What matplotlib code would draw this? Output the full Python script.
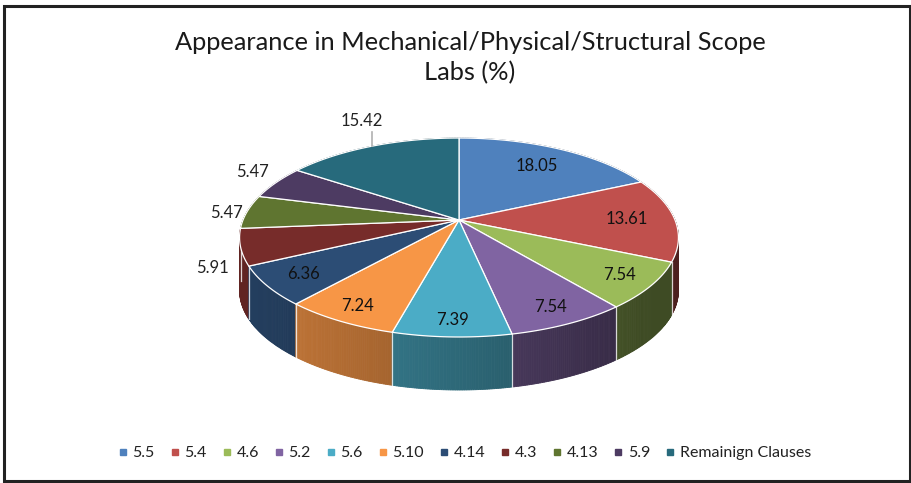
import numpy as np
import matplotlib
matplotlib.use("Agg")
import matplotlib.pyplot as plt
from matplotlib.patches import Polygon, Rectangle
from matplotlib.lines import Line2D
from matplotlib.colors import to_rgb

plt.rcParams['font.family'] = ['Lato', 'DejaVu Sans']

# ---- data ----
categories = ["5.5", "5.4", "4.6", "5.2", "5.6", "5.10", "4.14", "4.3", "4.13", "5.9", "Remainign Clauses"]
values = [18.05, 13.61, 7.54, 7.54, 7.39, 7.24, 6.36, 5.91, 5.47, 5.47, 15.42]
colors = ["#4F81BD", "#C0504D", "#9BBB59", "#8064A2", "#4BACC6", "#F79646",
          "#2C4D75", "#772C2A", "#5F7530", "#4D3B62", "#276A7C"]
title = "Appearance in Mechanical/Physical/Structural Scope\nLabs (%)"

# ---- style / geometry (pixels) ----
W, H = 911, 483
X0, Y0 = 459, 220          # apex of pie
A, B, P = 216, 96.4, 0.176  # half width, depth scale, perspective
DEPTH = 53
label_r = [0.74, 0.78, 0.85, 0.86, 0.88, 0.87, 0.83, None, None, None, None]
outside_off = {7: (-28, 21), 8: (-21, 1), 9: (-24, -11), 10: (-10, -25)}

fig = plt.figure(figsize=(W / 100, H / 100), dpi=100)
ax = fig.add_axes([0, 0, 1, 1])
ax.set_xlim(0, W)
ax.set_ylim(H, 0)
ax.axis('off')

ax.add_patch(Rectangle((4, 6), 906, 475, fill=False, edgecolor="#222222", lw=2.2, zorder=50))


def proj(u, v):
    d = 1 - P * v
    return X0 + A * u / d, Y0 + B * v / d


def pt(theta_deg, r=1.0):
    t = np.radians(theta_deg)
    return proj(r * np.cos(t), -r * np.sin(t))


def shade(theta):
    f = 0.56 - 0.26 * np.cos(np.radians(theta - 10))
    return max(f, 0.40)


total = sum(values)
spans = [360 * v / total for v in values]
starts = 90 - np.concatenate([[0], np.cumsum(spans)[:-1]])

# ---- side walls (quads sorted back to front) ----
quads = []
for i, (s, sp) in enumerate(zip(starts, spans)):
    n = max(int(sp * 2), 4)
    th = np.linspace(s, s - sp, n + 1)
    for a0, a1 in zip(th[:-1], th[1:]):
        x0, y0 = pt(a0)
        x1, y1 = pt(a1)
        vmid = -np.sin(np.radians((a0 + a1) / 2))
        base = np.array(to_rgb(colors[i]))
        c = tuple(np.clip(base * shade((a0 + a1) / 2), 0, 1))
        quads.append((vmid, [(x0, y0), (x1, y1), (x1, y1 + DEPTH), (x0, y0 + DEPTH)], c))
quads.sort(key=lambda q: q[0])
for vm, poly, c in quads:
    ax.add_patch(Polygon(poly, closed=True, facecolor=c, edgecolor=c, lw=0.6, zorder=2))

# boundaries on visible wall
for s in starts:
    ang = s % 360
    if 180 < ang < 360:
        x0, y0 = pt(s)
        ax.plot([x0, x0], [y0, y0 + DEPTH], color="white", lw=0.9, alpha=0.8, zorder=3)

# ---- top faces ----
for i, (s, sp) in enumerate(zip(starts, spans)):
    th = np.linspace(s, s - sp, max(int(sp * 2), 4) + 1)
    pts = [(X0, Y0)] + [pt(a) for a in th]
    ax.add_patch(Polygon(pts, closed=True, facecolor=colors[i], edgecolor="white", lw=0.9, zorder=4))

# ---- labels ----
for i, (s, sp) in enumerate(zip(starts, spans)):
    mid = s - sp / 2
    txt = f"{values[i]:.2f}"
    if label_r[i] is not None:
        x, y = pt(mid, label_r[i])
        ax.text(x, y, txt, ha='center', va='center', fontsize=12, color="#111111", zorder=10)
    else:
        rx, ry = pt(mid)
        dx, dy = outside_off[i]
        ax.text(rx + dx, ry + dy, txt, ha='center', va='center', fontsize=12, color="#222222", zorder=10)
        if i == 10:
            ax.plot([rx, rx], [ry, ry - 14], color="#b0b0b0", lw=1.2, zorder=9)

fig.text(470 / W, 1 - 58 / H, title, ha='center', va='center', fontsize=18.3, color="#1a1a1a",
         linespacing=1.35)

handles = [Line2D([], [], marker='s', linestyle='none', markersize=4.5,
                  markerfacecolor=c, markeredgecolor=c) for c in colors]
fig.legend(handles, categories, loc='center', bbox_to_anchor=(463 / W, 1 - 453 / H), ncol=11,
           frameon=False, fontsize=11.5, handletextpad=0.1, columnspacing=0.75, handlelength=1.0,
           labelcolor="#222222")

fig.savefig("out.png", dpi=100)
